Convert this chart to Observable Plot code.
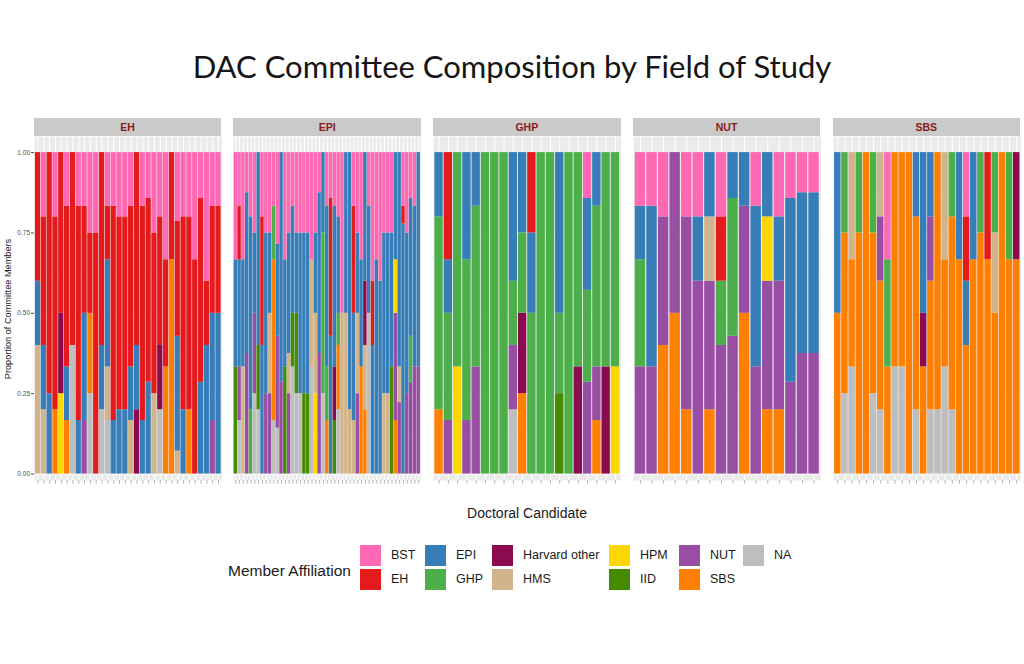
<!DOCTYPE html>
<html><head><meta charset="utf-8">
<script src="https://cdn.jsdelivr.net/npm/d3@7"></script>
<script src="https://cdn.jsdelivr.net/npm/@observablehq/plot@0.6"></script>
<style>
body{margin:0;background:#fff;}
#root{position:relative;width:1024px;height:664px;overflow:hidden;font-family:"Liberation Sans",Arial,sans-serif;color:#1a1a1a;}
.abs{position:absolute;}
.strip{position:absolute;background:#CACACA;color:#8B1A1A;font-weight:bold;font-size:10.5px;text-align:center;line-height:18px;height:18px;}
.lg-key{position:absolute;width:21px;height:21px;}
.lg-txt{position:absolute;font-size:12.5px;line-height:21px;white-space:nowrap;}
</style></head><body><div id="root"></div>
<script>
// ---- data ----
const categories = ["BST","EH","EPI","GHP","Harvard other","HMS","HPM","IID","NUT","SBS","NA"];
const codes      = ["BST","EH","EPI","GHP","HO","HMS","HPM","IID","NUT","SBS","NA"];
const colors     = ["#FF69B4","#E41A1C","#377EB8","#4DAF4A","#8B0A50","#D2B48C","#FFD700","#458B00","#984EA3","#FF7F00","#BEBEBE"];
const panels = ["EH","EPI","GHP","NUT","SBS"];
const yTicks = [0, 0.25, 0.5, 0.75, 1];

// committee members per candidate (counts by affiliation)
const ehBars = ["EH2 EPI1 HMS2","BST1 EH2 EPI1 HMS1","EH3 EPI1","BST1 EH3 SBS1","EH2 HO1 HPM1","BST1 EH3 EPI1 SBS1","EH3 NA2","BST1 EH4 EPI1",
  "BST1 EH2 EPI2 NUT1","BST1 EH1 SBS1 NA1","BST1 EH3","EH3 EPI1 NA1","BST1 EH1 EPI2 HMS1 NA1","BST1 EH4 EPI1","BST1 EH3 EPI1","BST1 EH3 EPI1",
  "BST1 EH3 EPI1 HMS1","EH3 EPI1 HO1","BST1 EH4 EPI1","BST1 EH4 EPI2","BST1 EH2 HMS1","BST1 EH2 HO1 NA1","BST1 EH1 SBS1","EH1 SBS2",
  "BST3 EH5 EPI5 HMS1","BST1 EH3 EPI1","BST1 EH3 SBS1","BST1 EH2","BST1 EH4 EPI2","BST2 EH1 EPI2","BST1 EH2 EPI2 NUT1","BST1 EH2 EPI3"];
const epiBars = ["BST1 EPI1 IID1","BST1 EH1 EPI2 NUT1 NA1","BST1 EPI1 HMS1","BST1 EPI4 NUT3","BST1 EPI3 GHP1","BST1 EPI1 NUT1 NA1","EPI3 IID1 NA1",
  "BST1 EH2 EPI2","BST1 EPI2 NUT1","BST1 EPI1 HMS1 NUT1","BST1 GHP1 SBS3 NA1","BST2 EPI2 NUT2 NA1","EPI5 NUT2","BST1 EPI1 IID1",
  "BST2 EPI3 HMS1 NUT2","BST1 EPI2 IID1 NA2","BST1 EPI1 IID1 NA1","BST1 EPI2 NA1","BST1 EPI2 IID1","BST1 EPI2 IID1","BST1 HMS1 NA1",
  "BST1 EPI1 HMS1 HPM1","BST1 EPI4 NUT3","EPI1 GHP2 NA1","BST1 EPI3 GHP1 SBS1","BST1 EH3 EPI3","BST1 EPI3 HO1 IID1","BST2 EPI3 GHP1 SBS2 NA2",
  "BST1 HMS1","EPI1 HMS1","EPI4 HMS1","BST1 EH2 EPI2 HMS1","BST1 EPI1 HMS1 NUT1","BST1 EPI1 SBS1","EPI2 HO1 HMS1 SBS1","BST1 EPI2 NA3",
  "BST2 EH1 EPI2","BST1 EPI2","BST2 EPI3","BST1 EPI2 HMS1","BST1 EPI2 HMS1","BST3 EPI5 IID4","EPI2 HPM1 NUT2 SBS1","EPI6 HMS1 NUT2",
  "BST3 EH1 EPI14","BST1 EPI2 NUT1","BST1 EPI3 GHP1 NUT2","BST1 EPI3 NUT2","EPI2 NUT1"];
const ghpBars = ["EPI1 GHP3 SBS1","EH2 EPI1 GHP2 NUT1","GHP2 HPM1","EPI2 GHP3 NUT1","EPI1 GHP3 NUT2","GHP1","GHP1","GHP1","EPI2 GHP1 NUT1 NA1",
  "EPI1 GHP1 HO1 SBS1","EH1 EPI1 GHP2","GHP1","GHP1","EPI2 GHP1 IID1","GHP1","GHP2 HO1","BST1 EPI2 GHP2 NUT2","EPI1 GHP3 NUT1 SBS1","GHP2 HO1","GHP2 HPM1"];
const nutBars = ["BST1 EPI1 GHP2 NUT2","BST1 EPI3 NUT2","BST1 NUT2 SBS2","NUT1 SBS1","BST1 NUT3 SBS1","BST1 EPI1 NUT3","EPI1 HMS1 NUT2 SBS1",
  "BST1 EH1 GHP1 NUT2","EPI1 GHP3 NUT3","EPI1 NUT2 SBS3","BST1 EPI3 NUT2","EPI1 HPM1 NUT2 SBS1","BST1 EPI1 NUT2 SBS1","BST1 EPI4 NUT2",
  "BST1 EPI4 NUT3","BST1 EPI4 NUT3"];
const sbsBars = ["EPI1 SBS1","GHP1 SBS2 NA1","HMS1 SBS1 NA1","GHP1 SBS3","SBS1","GHP1 SBS2 NA1","HMS1 NUT1 SBS2 NA1","BST1 GHP1 SBS1","SBS2 NA1",
  "SBS2 NA1","SBS1","EPI1 SBS3 NA1","EPI3 HO1 SBS2","EPI1 NUT1 SBS2 NA1","SBS4 NA1","HMS1 SBS1 NA1","GHP1 SBS3 NA1","EPI1 SBS2",
  "BST1 EH1 EPI1 SBS2","EPI1 SBS2","GHP1 SBS3","EH1 SBS2","GHP1 HMS1 SBS2","SBS1","GHP1 SBS2","HO1 SBS2"];
const barsByPanel = [ehBars, epiBars, ghpBars, nutBars, sbsBars];

// ---- page ----
const root = document.getElementById("root");
function add(html, style, cls) {
  const d = document.createElement("div");
  d.className = cls || "abs";
  if (style) d.setAttribute("style", style);
  d.innerHTML = html;
  root.appendChild(d);
  return d;
}
add("DAC Committee Composition by Field of Study",
  "left:0;width:1024px;top:47px;text-align:center;font-family:Lato,'Open Sans',sans-serif;font-size:31px;color:#151515;");

function parse(s) {
  const m = {};
  s.replace(/([A-Z]+)(\d+)/g, (_, c, n) => { m[c] = +n; });
  return m;
}

const panelW = 187.5, step = 199.7, left0 = 33.7;
const panelTop = 136, panelH = 344, bottomExtra = 6;
const yDomain = [-0.02, 1.05];

panels.forEach((p, i) => {
  const bars = barsByPanel[i];
  const ids = bars.map((_, j) => p + "-" + (j + 1));
  const rows = [];
  bars.forEach((s, j) => {
    const m = parse(s);
    for (let c = codes.length - 1; c >= 0; c--) {
      if (m[codes[c]]) rows.push({id: ids[j], cat: categories[c], n: m[codes[c]]});
    }
  });
  const chart = Plot.plot({
    width: panelW, height: panelH + bottomExtra,
    marginLeft: 0, marginRight: 0, marginTop: 0, marginBottom: bottomExtra,
    style: {fontFamily: "Liberation Sans, Arial, sans-serif", background: "transparent", overflow: "visible"},
    x: {domain: ids, paddingInner: 0.1, paddingOuter: 0.15, round: false, axis: null},
    y: {domain: yDomain, axis: null},
    color: {domain: categories, range: colors},
    marks: [
      Plot.frame({fill: "#EBEBEB", stroke: null}),
      Plot.ruleY([0.125, 0.375, 0.625, 0.875], {stroke: "white", strokeWidth: 0.5}),
      Plot.ruleY(yTicks, {stroke: "white", strokeWidth: 1}),
      Plot.ruleX(ids, {x: d => d, stroke: "white", strokeWidth: 1}),
      Plot.barY(rows, {x: "id", y: "n", fill: "cat", offset: "normalize"}),
      Plot.ruleX(ids, {x: d => d, y1: yDomain[0], y2: yDomain[0] - 0.012, stroke: "#8a8a8a", strokeWidth: 0.6})
    ]
  });
  const holder = add("", `left:${left0 + step * i}px;top:${panelTop}px;`);
  holder.appendChild(chart);
  add(p, `left:${left0 + step * i}px;top:${panelTop - 18}px;width:${panelW}px;`, "strip");
});

// y axis (shared, left of first panel)
const yAxis = Plot.plot({
  width: 34, height: panelH + bottomExtra,
  marginLeft: 34, marginRight: 0, marginTop: 0, marginBottom: bottomExtra,
  style: {fontFamily: "Liberation Sans, Arial, sans-serif", background: "transparent", overflow: "visible"},
  y: {domain: yDomain},
  marks: [Plot.axisY({ticks: yTicks, tickFormat: d => d.toFixed(2), tickSize: 3, tickPadding: 1.5,
    fontSize: 6.5, label: null, color: "#4D4D4D"})]
});
add("", `left:${left0 - 34}px;top:${panelTop}px;`).appendChild(yAxis);

// axis titles
add("Proportion of Committee Members",
  "left:8px;top:309px;font-size:9.2px;color:#1a1a1a;white-space:nowrap;transform:translate(-50%,-50%) rotate(-90deg);");
add("Doctoral Candidate", "left:527px;top:505px;transform:translateX(-50%);font-size:14px;white-space:nowrap;");

// legend
add("Member Affiliation", "left:228px;top:561px;font-size:15.5px;line-height:20px;white-space:nowrap;");
const colX = [360, 425, 492, 609, 679, 743];
categories.forEach((c, k) => {
  const col = Math.floor(k / 2), row = k % 2;
  const x = colX[col], y = 545 + row * 24;
  add("", `left:${x}px;top:${y}px;background:${colors[k]};`, "lg-key");
  add(c, `left:${x + 31}px;top:${y}px;`, "lg-txt");
});
</script></body></html>
